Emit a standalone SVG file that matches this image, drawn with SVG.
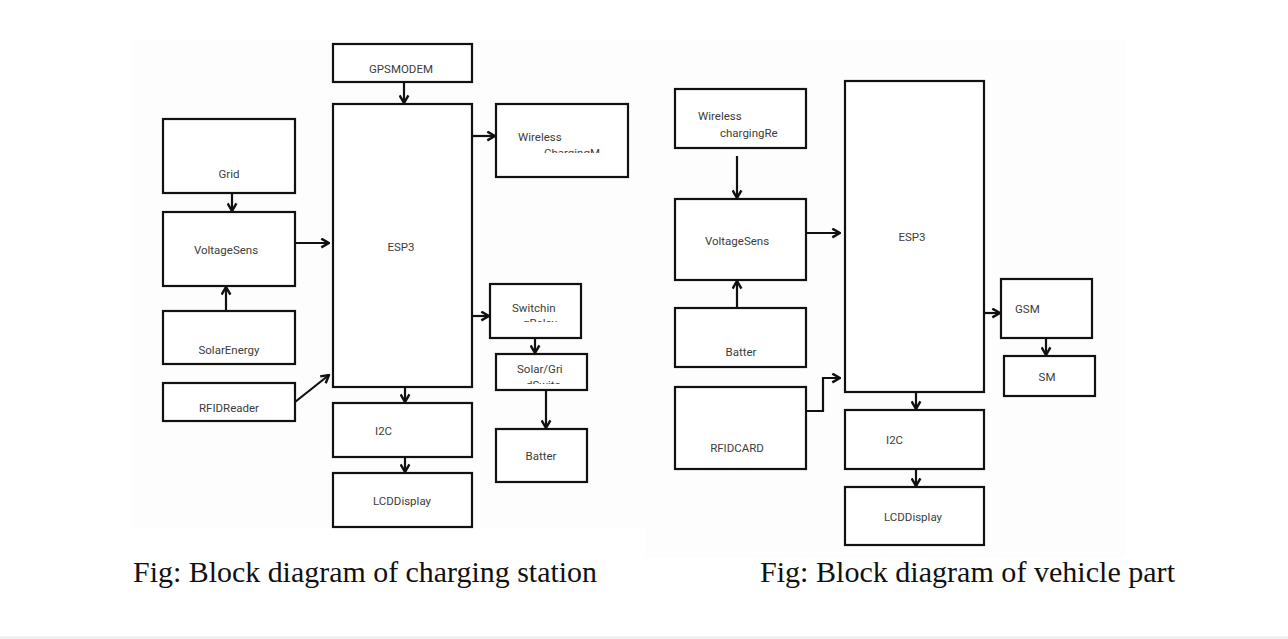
<svg xmlns="http://www.w3.org/2000/svg" width="1288" height="639" viewBox="0 0 1288 639">
<style>
.box{fill:#fff;stroke:#111;stroke-width:2.2}
.lbl{font-family:Roboto,"Liberation Sans",sans-serif;font-size:11.5px;fill:#3c3c3c}
.c{text-anchor:middle}
.cn{fill:none;stroke:#111;stroke-width:2.2}
.cap{font-family:"Liberation Serif",serif;font-size:30px;fill:#111}
</style>
<defs>
<marker id="ah" viewBox="0 0 10 10" refX="9" refY="5" markerWidth="11" markerHeight="11" markerUnits="userSpaceOnUse" orient="auto">
<path d="M2,1 L9,5 L2,9" fill="none" stroke="#111" stroke-width="2.2"/>
</marker>
<clipPath id="cp1"><rect x="496" y="104" width="132" height="49"/></clipPath>
<clipPath id="cp2"><rect x="490" y="284" width="91" height="38"/></clipPath>
<clipPath id="cp3"><rect x="496" y="354" width="91" height="30"/></clipPath>
</defs>
<rect x="0" y="0" width="1288" height="639" fill="#fff"/>
<rect x="132" y="39" width="513" height="489" fill="#fdfdfd"/>
<rect x="645" y="40" width="480" height="518" fill="#fdfdfd"/>
<line x1="0" y1="637.5" x2="1288" y2="637.5" stroke="#ececec" stroke-width="2"/>

<g id="connectors">
<line class="cn" x1="404" y1="82" x2="404" y2="103" marker-end="url(#ah)"/>
<line class="cn" x1="472" y1="136" x2="495" y2="136" marker-end="url(#ah)"/>
<line class="cn" x1="232" y1="193" x2="232" y2="211" marker-end="url(#ah)"/>
<line class="cn" x1="295" y1="243" x2="329" y2="243" marker-end="url(#ah)"/>
<line class="cn" x1="226" y1="311" x2="226" y2="287" marker-end="url(#ah)"/>
<line class="cn" x1="295" y1="402" x2="329" y2="375" marker-end="url(#ah)"/>
<line class="cn" x1="472" y1="316" x2="489" y2="316" marker-end="url(#ah)"/>
<line class="cn" x1="535" y1="338" x2="535" y2="353" marker-end="url(#ah)"/>
<line class="cn" x1="546" y1="390" x2="546" y2="428" marker-end="url(#ah)"/>
<line class="cn" x1="405" y1="387" x2="405" y2="402" marker-end="url(#ah)"/>
<line class="cn" x1="405" y1="457" x2="405" y2="472" marker-end="url(#ah)"/>

<line class="cn" x1="737" y1="156" x2="737" y2="198" marker-end="url(#ah)"/>
<line class="cn" x1="806" y1="233" x2="840" y2="233" marker-end="url(#ah)"/>
<line class="cn" x1="737" y1="308" x2="737" y2="281" marker-end="url(#ah)"/>
<polyline class="cn" points="806,411 823,411 823,378 840,378" marker-end="url(#ah)"/>
<line class="cn" x1="984" y1="313" x2="1000" y2="313" marker-end="url(#ah)"/>
<line class="cn" x1="1046" y1="338" x2="1046" y2="355" marker-end="url(#ah)"/>
<line class="cn" x1="916" y1="392" x2="916" y2="409" marker-end="url(#ah)"/>
<line class="cn" x1="916" y1="469" x2="916" y2="486" marker-end="url(#ah)"/>
</g>

<g id="gpsmodem"><rect class="box" x="333" y="44" width="139" height="38"/><text class="lbl c" x="401" y="73">GPSMODEM</text></g>
<g id="esp3-station"><rect class="box" x="333" y="104" width="139" height="283"/><text class="lbl c" x="401" y="251">ESP3</text></g>
<g id="wireless-charging"><rect class="box" x="496" y="104" width="132" height="73"/><text class="lbl" x="518" y="141">Wireless</text><text class="lbl" x="544" y="157" clip-path="url(#cp1)">ChargingM</text></g>
<g id="grid"><rect class="box" x="163" y="119" width="132" height="74"/><text class="lbl c" x="229" y="178">Grid</text></g>
<g id="voltagesens-station"><rect class="box" x="163" y="212" width="132" height="74"/><text class="lbl c" x="226" y="254">VoltageSens</text></g>
<g id="solarenergy"><rect class="box" x="163" y="311" width="132" height="53"/><text class="lbl c" x="229" y="354">SolarEnergy</text></g>
<g id="rfidreader"><rect class="box" x="163" y="383" width="132" height="38"/><text class="lbl c" x="229" y="412">RFIDReader</text></g>
<g id="switching-relay"><rect class="box" x="490" y="284" width="91" height="54"/><text class="lbl" x="512" y="312">Switchin</text><text class="lbl" x="523" y="327" clip-path="url(#cp2)">gRelay</text></g>
<g id="solar-grid-switch"><rect class="box" x="496" y="354" width="91" height="36"/><text class="lbl" x="517" y="373">Solar/Gri</text><text class="lbl" x="526" y="389" clip-path="url(#cp3)">dSwitc</text></g>
<g id="batter-station"><rect class="box" x="496" y="429" width="91" height="53"/><text class="lbl c" x="541" y="460">Batter</text></g>
<g id="i2c-station"><rect class="box" x="333" y="403" width="139" height="54"/><text class="lbl" x="375" y="435">I2C</text></g>
<g id="lcd-station"><rect class="box" x="333" y="473" width="139" height="54"/><text class="lbl c" x="402" y="505">LCDDisplay</text></g>

<g id="wireless-receiver"><rect class="box" x="675" y="89" width="131" height="59"/><text class="lbl" x="698" y="120">Wireless</text><text class="lbl" x="720" y="137">chargingRe</text></g>
<g id="voltagesens-vehicle"><rect class="box" x="675" y="199" width="131" height="81"/><text class="lbl c" x="737" y="245">VoltageSens</text></g>
<g id="esp3-vehicle"><rect class="box" x="845" y="81" width="139" height="311"/><text class="lbl c" x="912" y="241">ESP3</text></g>
<g id="batter-vehicle"><rect class="box" x="675" y="308" width="131" height="59"/><text class="lbl c" x="741" y="356">Batter</text></g>
<g id="rfidcard"><rect class="box" x="675" y="387" width="131" height="82"/><text class="lbl c" x="737" y="452">RFIDCARD</text></g>
<g id="gsm"><rect class="box" x="1001" y="279" width="91" height="59"/><text class="lbl" x="1015" y="313">GSM</text></g>
<g id="sm"><rect class="box" x="1004" y="356" width="91" height="40"/><text class="lbl c" x="1047" y="381">SM</text></g>
<g id="i2c-vehicle"><rect class="box" x="845" y="410" width="139" height="59"/><text class="lbl" x="886" y="444">I2C</text></g>
<g id="lcd-vehicle"><rect class="box" x="845" y="487" width="139" height="58"/><text class="lbl c" x="913" y="521">LCDDisplay</text></g>

<text class="cap" x="133" y="582" textLength="464" lengthAdjust="spacingAndGlyphs">Fig: Block diagram of charging station</text>
<text class="cap" x="760" y="582" textLength="415" lengthAdjust="spacingAndGlyphs">Fig: Block diagram of vehicle part</text>
</svg>
